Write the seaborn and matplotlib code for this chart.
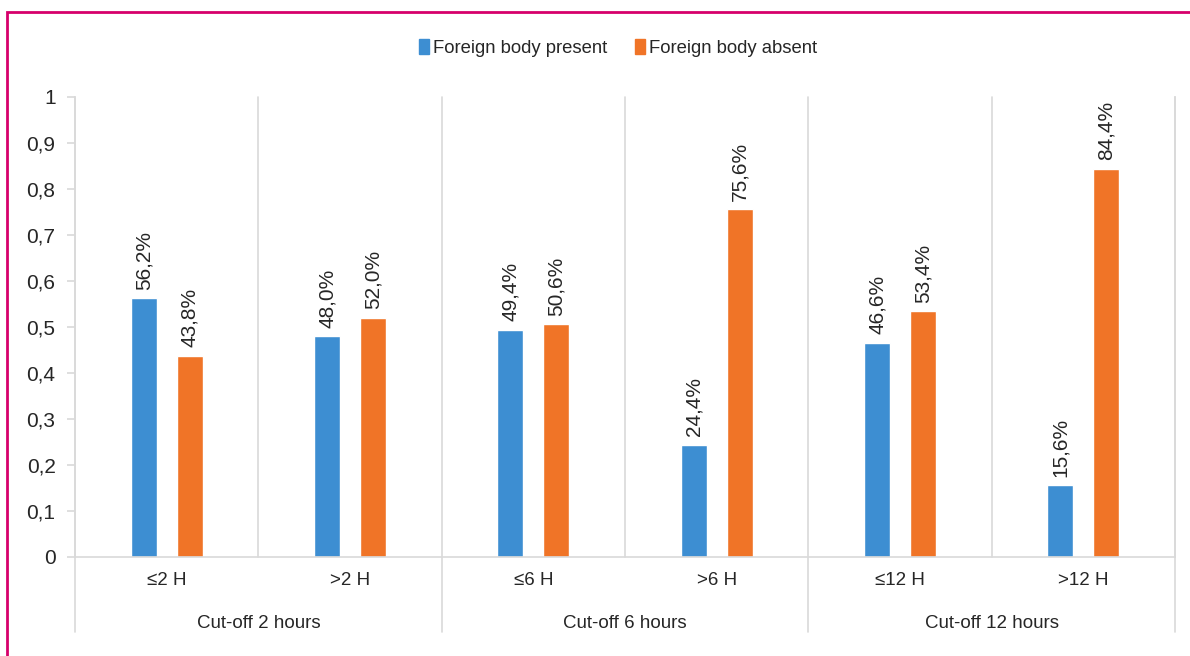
import matplotlib
matplotlib.use("Agg")
import matplotlib.pyplot as plt
import matplotlib.patches as mpatches
from matplotlib.transforms import blended_transform_factory
import seaborn as sns
import pandas as pd

# Data
subgroups = ["≤2 H", ">2 H", "≤6 H", ">6 H", "≤12 H", ">12 H"]
groups = ["Cut-off 2 hours", "Cut-off 6 hours", "Cut-off 12 hours"]
present = [0.562, 0.480, 0.494, 0.244, 0.466, 0.156]
absent = [0.438, 0.520, 0.506, 0.756, 0.534, 0.844]
series = ["Foreign body present", "Foreign body absent"]
yticks = [0, 0.1, 0.2, 0.3, 0.4, 0.5, 0.6, 0.7, 0.8, 0.9, 1]

sns.set_style("white")
plt.rcParams["font.family"] = ["Liberation Sans", "DejaVu Sans"]

df = pd.DataFrame({
    "sub": subgroups * 2,
    "value": present + absent,
    "series": [series[0]] * len(present) + [series[1]] * len(absent),
})

colors = ["#3D8ED2", "#F07427"]
grid = "#D9D9D9"
txt = "#262626"

fig = plt.figure(figsize=(11.9, 6.56), dpi=100)
ax = fig.add_axes([75 / 1190, 1 - 557 / 656, 1100 / 1190, 460 / 656])

sns.barplot(data=df, x="sub", y="value", hue="series", order=subgroups,
            hue_order=series, palette=colors, width=0.5, gap=0.43,
            saturation=1, ax=ax, legend=False)

ax.set_xlim(-0.5, len(subgroups) - 0.5)
ax.set_ylim(0, 1)
ax.set_yticks(yticks)
ax.set_yticklabels([("%g" % t).replace(".", ",") for t in yticks],
                   fontsize=15, color=txt)
ax.set_xticks(range(len(subgroups)))
ax.set_xticklabels(subgroups, fontsize=13.5, color=txt)
ax.tick_params(axis="x", length=0, pad=11)
ax.tick_params(axis="y", length=6, color=grid, width=1.2, pad=8,
               left=True)
ax.set_xlabel("")
ax.set_ylabel("")

for side in ["left", "right", "bottom"]:
    ax.spines[side].set_color(grid)
    ax.spines[side].set_linewidth(1.2)
ax.spines["top"].set_visible(False)

# value labels
for cont, vals in zip(ax.containers, [present, absent]):
    ax.bar_label(cont, labels=[("%.1f%%" % (v * 100)).replace(".", ",") for v in vals],
                 rotation=90, padding=6, fontsize=15, color=txt)

# separators between subgroups (inside plot) and groups (extending below)
trans = blended_transform_factory(ax.transData, ax.transAxes)
for i in range(len(subgroups) + 1):
    xpos = i - 0.5
    if i % 2 == 0:
        ax.plot([xpos, xpos], [-75 / 460, 1], transform=trans, color=grid,
                lw=1.2, clip_on=False, zorder=0)
    else:
        ax.plot([xpos, xpos], [0, 1], transform=trans, color=grid,
                lw=1.2, clip_on=False, zorder=0)

for g, name in enumerate(groups):
    ax.text(2 * g + 0.5, -66 / 460, name, transform=trans, ha="center",
            va="center", fontsize=13.5, color=txt)

handles = [mpatches.Patch(color=c, label=s) for c, s in zip(colors, series)]
fig.legend(handles=handles, loc="center", bbox_to_anchor=(618 / 1190, 1 - 48 / 656),
           ncol=2, frameon=False, fontsize=13.3, handlelength=0.55,
           handleheight=0.9, handletextpad=0.2, columnspacing=1.5,
           labelcolor=txt)

# page frame
fig.patches.append(mpatches.Rectangle((7 / 1190, -0.1), 1.2, 1.1 - 12 / 656,
                                      transform=fig.transFigure, fill=False,
                                      edgecolor="#D6006B", lw=2))

fig.savefig("out.png", dpi=100)
